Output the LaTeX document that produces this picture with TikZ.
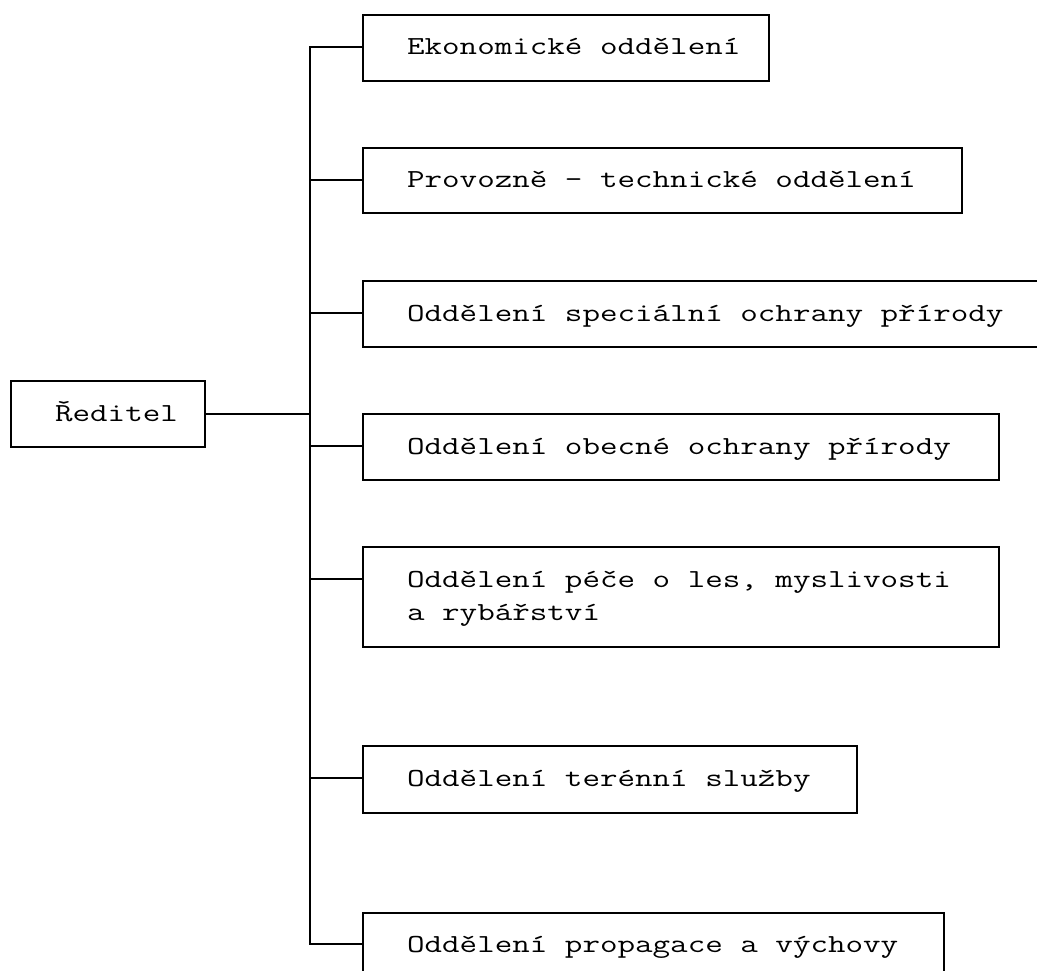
\documentclass[tikz,border=0pt]{standalone}
\usepackage{fontspec}
\usepackage{graphicx}
\newcommand{\widetext}[1]{\scalebox{1.31}[1]{#1}}
\begin{document}
\begin{tikzpicture}[x=1pt,y=-1pt, line width=2.2pt,
  box/.style={draw, rectangle, inner sep=0pt, anchor=north west},
  lbl/.style={anchor=base west, inner sep=0pt, font=\ttfamily\fontsize{26}{33}\selectfont},
  wire/.style={draw, line width=2.2pt}]
\useasboundingbox (0,0) rectangle (1037,971);
\clip (0,0) rectangle (1037,971);
% director
\node[box, minimum width=194pt, minimum height=66pt] (red) at (10,380) {};
\node[lbl] (tred) at (54,421) {\widetext{Ředitel}};
% departments
\node[box, minimum width=406pt, minimum height=66pt] (b1) at (362,14) {};
\node[lbl] (t1) at (406,55) {\widetext{Ekonomické oddělení}};
\node[box, minimum width=599pt, minimum height=65pt] (b2) at (362,147) {};
\node[lbl] (t2) at (406,188) {\widetext{Provozně - technické oddělení}};
\node[box, minimum width=700pt, minimum height=66pt] (b3) at (362,280) {};
\node[lbl] (t3) at (406,321) {\widetext{Oddělení speciální ochrany přírody}};
\node[box, minimum width=636pt, minimum height=66pt] (b4) at (362,413) {};
\node[lbl] (t4) at (406,454) {\widetext{Oddělení obecné ochrany přírody}};
\node[box, minimum width=636pt, minimum height=100pt] (b5) at (362,546) {};
\node[lbl] (t5a) at (406,587) {\widetext{Oddělení péče o les, myslivosti}};
\node[lbl] (t5b) at (406,620) {\widetext{a rybářství}};
\node[box, minimum width=494pt, minimum height=67pt] (b6) at (362,745) {};
\node[lbl] (t6) at (406,786) {\widetext{Oddělení terénní služby}};
\node[box, minimum width=581pt, minimum height=100pt] (b7) at (362,912) {};
\node[lbl] (t7) at (406,952) {\widetext{Oddělení propagace a výchovy}};
% spine junctions
\coordinate (j1) at (310,47);
\coordinate (j2) at (310,180);
\coordinate (j3) at (310,313);
\coordinate (j4) at (310,446);
\coordinate (j5) at (310,579);
\coordinate (j6) at (310,778);
\coordinate (j7) at (310,944);
\path[wire] (j1 -| b1.west) -- (j1) -- (j7) -- (j7 -| b7.west);
\path[wire] (red.east) -- (red.east -| j1);
\path[wire] (j2) -- (j2 -| b2.west);
\path[wire] (j3) -- (j3 -| b3.west);
\path[wire] (j4) -- (j4 -| b4.west);
\path[wire] (j5) -- (j5 -| b5.west);
\path[wire] (j6) -- (j6 -| b6.west);
\end{tikzpicture}
\end{document}
